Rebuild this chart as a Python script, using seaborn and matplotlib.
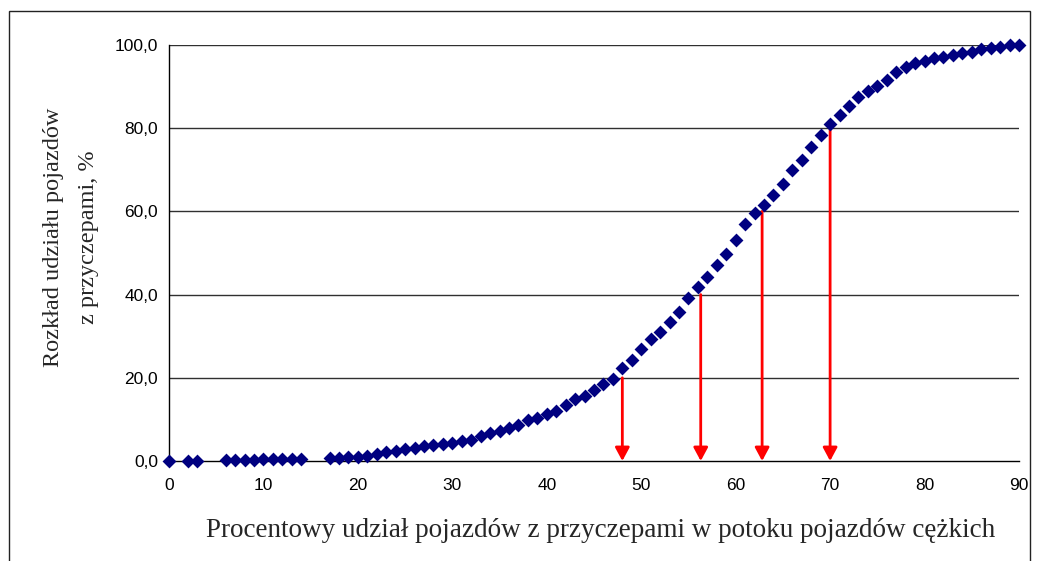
import matplotlib
matplotlib.use("Agg")
import matplotlib.pyplot as plt
from matplotlib.patches import Rectangle
import numpy as np
import pandas as pd
import seaborn as sns

# Share of vehicles with trailers (%) in the heavy-vehicle stream
udzial = [0, 2, 3,
          6, 7, 8, 9, 10, 11, 12, 13, 14,
          17, 18, 19, 20, 21, 22, 23, 24, 25, 26, 27, 28, 29, 30,
          31, 32, 33, 34, 35, 36, 37, 38, 39, 40, 41, 42, 43, 44, 45,
          46, 47, 48, 49, 50, 51, 52, 53, 54, 55, 56, 57, 58, 59, 60,
          61, 62, 63, 64, 65, 66, 67, 68, 69, 70, 71, 72, 73, 74, 75,
          76, 77, 78, 79, 80, 81, 82, 83, 84, 85, 86, 87, 88, 89, 90]

# Cumulative distribution, %
rozklad = [0.0, 0.0, 0.0,
           0.2, 0.2, 0.3, 0.3, 0.4, 0.4, 0.5, 0.5, 0.6,
           0.7, 0.8, 0.9, 1.0, 1.2, 1.7, 2.1, 2.5, 2.8, 3.1, 3.5, 3.8, 4.2, 4.3,
           4.7, 5.1, 6.0, 6.7, 7.1, 7.9, 8.7, 9.8, 10.4, 11.2, 12.0, 13.5, 15.0, 15.7, 17.1,
           18.4, 19.6, 22.3, 24.3, 27.0, 29.3, 31.1, 33.5, 35.9, 39.1, 41.9, 44.3, 47.1, 49.8, 53.1,
           56.9, 59.5, 61.5, 63.9, 66.7, 70.0, 72.4, 75.6, 78.3, 81.0, 83.1, 85.3, 87.4, 88.9, 90.1,
           91.6, 93.6, 94.6, 95.6, 96.2, 96.8, 97.0, 97.6, 98.1, 98.4, 99.0, 99.2, 99.6, 100.0, 100.0]

# Quantile read-offs: levels of the distribution and corresponding shares
poziomy = [20, 40, 60, 80]
odczyty = [48.0, 56.3, 62.8, 70.0]

x_ticks = [0, 10, 20, 30, 40, 50, 60, 70, 80, 90]
y_ticks = [0, 20, 40, 60, 80, 100]

df = pd.DataFrame({"udzial": udzial, "rozklad": rozklad})

sns.set_style("white")
plt.rcParams["font.family"] = ["Liberation Sans", "DejaVu Sans"]

W, H = 1039, 561
fig = plt.figure(figsize=(W / 100, H / 100), dpi=100)
fig.patch.set_facecolor("white")

# outer chart frame (open at the bottom edge of the image)
fig.patches.append(Rectangle((9 / W, -0.05), (1030 - 9) / W, 1.05 - 11 / H,
                             transform=fig.transFigure, fill=False,
                             edgecolor="#222222", linewidth=1.0))

ax = fig.add_axes([169 / W, (H - 461) / H, (1019 - 169) / W, (461 - 45) / H])

ax.set_xlim(0, 90)
ax.set_ylim(0, 100)
ax.set_yticks(y_ticks)
ax.set_xticks(x_ticks)
ax.set_yticklabels([f"{v:.1f}".replace(".", ",") for v in y_ticks])
ax.set_xticklabels([str(v) for v in x_ticks])

for v in y_ticks[1:]:
    ax.axhline(v, color="#303030", lw=1.0, zorder=1)

# read-off arrows from the curve level down to the x axis
for lvl, xv in zip(poziomy, odczyty):
    ax.annotate("", xy=(xv, 0), xytext=(xv, lvl),
                arrowprops=dict(arrowstyle="-|>,head_length=0.8,head_width=0.43",
                                color="#ff0000", lw=2.0, mutation_scale=10,
                                shrinkA=0, shrinkB=0),
                zorder=2, annotation_clip=False)

sns.scatterplot(data=df, x="udzial", y="rozklad", ax=ax, marker="D",
                s=50, color="#000080", linewidth=0, zorder=3, clip_on=False)

for side in ["top", "right"]:
    ax.spines[side].set_visible(False)
for side in ["left", "bottom"]:
    ax.spines[side].set_color("black")
    ax.spines[side].set_linewidth(1.0)

ax.tick_params(axis="both", direction="out", length=4, width=1.0,
               color="#444444", labelsize=12.5, labelcolor="black", pad=4)
ax.tick_params(axis="x", pad=8)

ax.set_xlabel("Procentowy udział pojazdów z przyczepami w potoku pojazdów cężkich",
              family=["Liberation Serif", "DejaVu Serif"], fontsize=19.5)
ax.set_ylabel("Rozkład udziału pojazdów\nz przyczepami, %",
              family=["Liberation Serif", "DejaVu Serif"], fontsize=17.5,
              linespacing=1.9)
ax.xaxis.set_label_coords(0.508, -0.138)
ax.yaxis.set_label_coords(-0.082, 0.538)

fig.savefig("out.png", dpi=100, facecolor="white")
